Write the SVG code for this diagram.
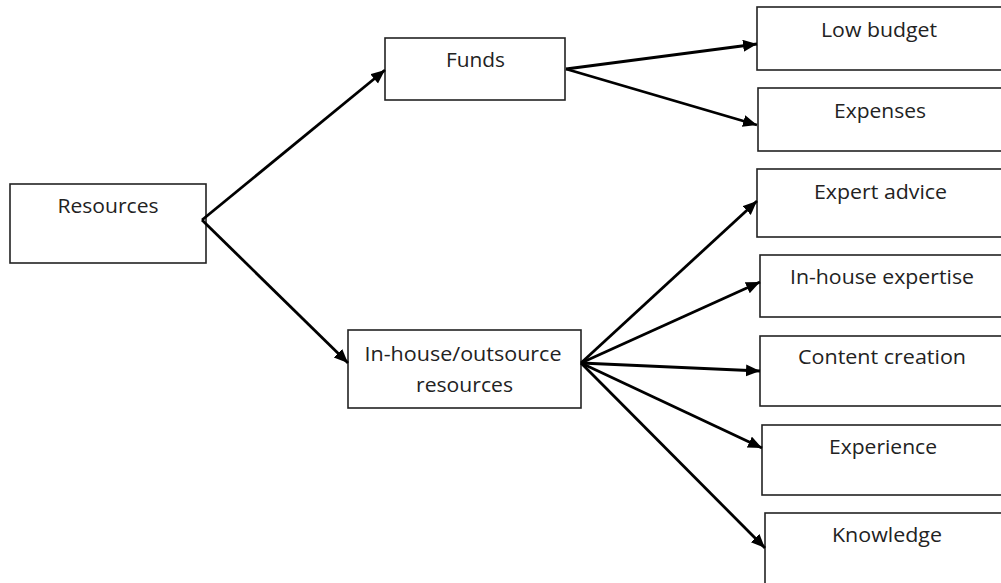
<svg xmlns="http://www.w3.org/2000/svg" width="1001" height="583" viewBox="0 0 1001 583">
<style>
.box{fill:#fff;stroke:#222;stroke-width:1.6}
.lbl{font-family:"Open Sans","Liberation Sans",sans-serif;font-size:20.5px;fill:#222;text-anchor:middle}
.arr{stroke:#000;stroke-width:2.8;fill:none;marker-end:url(#ah)}
</style>
<defs>
<marker id="ah" markerUnits="userSpaceOnUse" markerWidth="16" markerHeight="14" refX="14" refY="6" orient="auto">
<path d="M0,0 L14,6 L0,12 Z" fill="#000"/>
</marker>
</defs>
<rect width="1001" height="583" fill="#fff"/>
<g id="resources">
<rect class="box" x="10" y="184" width="196" height="79"/>
<text class="lbl" x="108" y="213" textLength="101" lengthAdjust="spacingAndGlyphs">Resources</text>
</g>
<g id="funds">
<rect class="box" x="385" y="38" width="180" height="62"/>
<text class="lbl" x="475.5" y="67" textLength="59" lengthAdjust="spacingAndGlyphs">Funds</text>
</g>
<g id="inhouse">
<rect class="box" x="348" y="330" width="233" height="78"/>
<text class="lbl" x="463" y="361" textLength="197" lengthAdjust="spacingAndGlyphs">In-house/outsource</text>
<text class="lbl" x="464.5" y="392" textLength="97" lengthAdjust="spacingAndGlyphs">resources</text>
</g>
<g id="lowbudget">
<rect class="box" x="757" y="7" width="260" height="63"/>
<text class="lbl" x="879" y="37" textLength="116" lengthAdjust="spacingAndGlyphs">Low budget</text>
</g>
<g id="expenses">
<rect class="box" x="758" y="88" width="260" height="63"/>
<text class="lbl" x="880" y="118" textLength="92" lengthAdjust="spacingAndGlyphs">Expenses</text>
</g>
<g id="expertadvice">
<rect class="box" x="757" y="169" width="260" height="68"/>
<text class="lbl" x="880.5" y="199" textLength="133" lengthAdjust="spacingAndGlyphs">Expert advice</text>
</g>
<g id="inhouseexpertise">
<rect class="box" x="760" y="255" width="260" height="62"/>
<text class="lbl" x="882" y="284" textLength="184" lengthAdjust="spacingAndGlyphs">In-house expertise</text>
</g>
<g id="contentcreation">
<rect class="box" x="760" y="336" width="260" height="70"/>
<text class="lbl" x="882" y="364" textLength="168" lengthAdjust="spacingAndGlyphs">Content creation</text>
</g>
<g id="experience">
<rect class="box" x="762" y="425" width="260" height="70"/>
<text class="lbl" x="883" y="454" textLength="108" lengthAdjust="spacingAndGlyphs">Experience</text>
</g>
<g id="knowledge">
<rect class="box" x="765" y="513" width="260" height="90"/>
<text class="lbl" x="887" y="542" textLength="110" lengthAdjust="spacingAndGlyphs">Knowledge</text>
</g>
<g id="connectors">
<line class="arr" x1="202" y1="220" x2="385" y2="70"/>
<line class="arr" x1="202" y1="220" x2="348" y2="363"/>
<line class="arr" x1="566" y1="69" x2="757" y2="44"/>
<line class="arr" x1="566" y1="69" x2="757" y2="125"/>
<line class="arr" x1="581" y1="363" x2="757" y2="201"/>
<line class="arr" x1="581" y1="363" x2="760" y2="282"/>
<line class="arr" x1="581" y1="363" x2="760" y2="371"/>
<line class="arr" x1="581" y1="363" x2="762" y2="448"/>
<line class="arr" x1="581" y1="363" x2="765" y2="548"/>
</g>
</svg>
